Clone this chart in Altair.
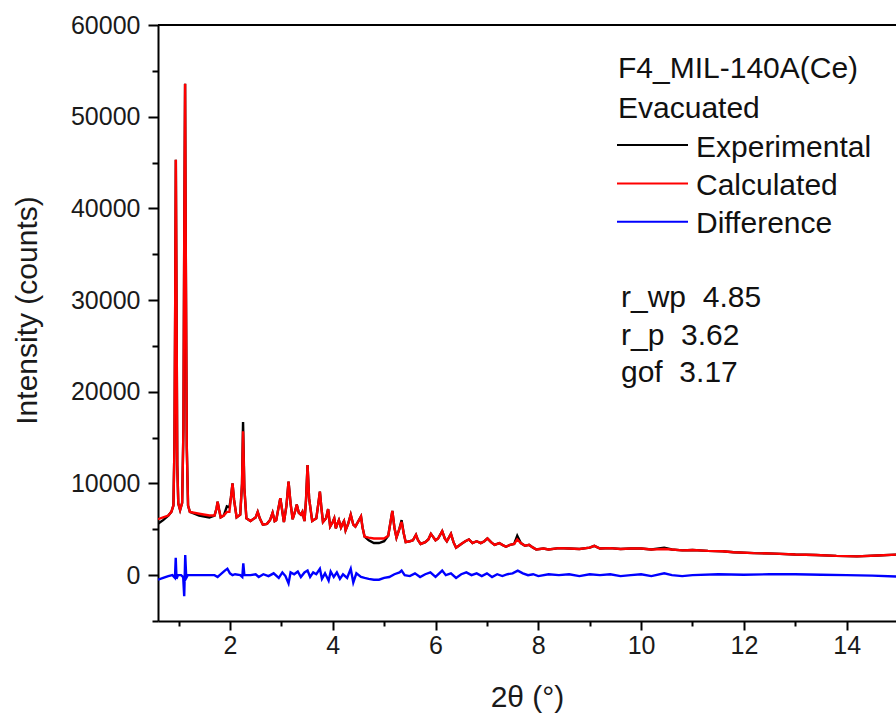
import altair as alt
import pandas as pd

# ---- data ----
calc_points = [
    (0.60, 6100), (0.70, 6300), (0.80, 6500), (0.86, 6900), (0.90, 7600),
    (0.92, 14000), (0.935, 30000), (0.947, 45300), (0.96, 30000), (0.975, 12000),
    (0.995, 7800), (1.03, 7100), (1.07, 7900), (1.095, 16000), (1.11, 36000),
    (1.127, 53600), (1.14, 36000), (1.16, 14000), (1.185, 7600),
    (1.22, 6900), (1.40, 6700), (1.60, 6500), (1.70, 6500), (1.74, 7300),
    (1.76, 8000), (1.79, 7100), (1.82, 6300), (1.88, 6500), (1.94, 6900),
    (1.99, 6900), (2.02, 8500), (2.05, 10000), (2.08, 8200), (2.13, 6300),
    (2.20, 6600), (2.235, 10000), (2.255, 15700), (2.28, 9500), (2.32, 6200),
    (2.40, 5900), (2.50, 6300), (2.54, 6900), (2.58, 6200), (2.64, 5500),
    (2.72, 5600), (2.78, 6000), (2.83, 6800), (2.87, 5900), (2.90, 6000),
    (2.95, 7500), (2.98, 8400), (3.01, 7300), (3.05, 5800), (3.10, 7600),
    (3.14, 10200), (3.18, 7800), (3.22, 6100), (3.27, 7000), (3.30, 7700),
    (3.34, 6800), (3.38, 6600), (3.41, 6900), (3.45, 5900), (3.48, 8200),
    (3.51, 12000), (3.54, 8400), (3.60, 5900), (3.68, 6200), (3.72, 7800),
    (3.75, 9100), (3.78, 7300), (3.81, 5800), (3.87, 6200), (3.91, 7200),
    (3.95, 5300), (4.00, 5800), (4.03, 6200), (4.06, 5100), (4.09, 5600),
    (4.12, 6000), (4.16, 5200), (4.20, 5700), (4.22, 5900), (4.25, 4900),
    (4.30, 5600), (4.35, 6600), (4.40, 5500), (4.44, 5300), (4.50, 5900),
    (4.55, 6400), (4.58, 5200), (4.62, 4200), (4.70, 4100), (4.80, 4000),
    (4.90, 4000), (5.00, 4000), (5.08, 4300), (5.13, 6000), (5.16, 7000),
    (5.20, 5200), (5.24, 4100), (5.30, 5100), (5.34, 5800), (5.38, 4600),
    (5.42, 3600), (5.50, 3700), (5.56, 3800), (5.62, 4400), (5.66, 3800),
    (5.71, 3400), (5.80, 3600), (5.86, 3900), (5.91, 4500), (5.95, 4200),
    (6.00, 3800), (6.05, 4000), (6.13, 4800), (6.18, 4000), (6.22, 3700),
    (6.30, 4500), (6.35, 3600), (6.40, 3000), (6.50, 3400), (6.58, 3700),
    (6.65, 3900), (6.72, 3500), (6.80, 3700), (6.88, 3500), (6.95, 3700),
    (7.01, 4000), (7.08, 3600), (7.15, 3300), (7.24, 3500), (7.30, 3300),
    (7.37, 3100), (7.45, 3300), (7.53, 3400), (7.59, 3900), (7.66, 3500),
    (7.74, 3200), (7.82, 3300), (7.90, 3000), (7.96, 2800), (8.10, 2900),
    (8.20, 2800), (8.40, 2950), (8.60, 2900), (8.80, 2850), (9.00, 3000),
    (9.09, 3200), (9.20, 2900), (9.40, 2950), (9.60, 2850), (9.80, 2900),
    (10.00, 2900), (10.20, 2800), (10.45, 2850), (10.60, 2800), (10.80, 2700),
    (11.00, 2750), (11.30, 2650), (11.58, 2600), (11.80, 2500), (12.20, 2400),
    (12.60, 2350), (13.00, 2250), (13.40, 2200), (13.80, 2100), (14.20, 2050),
    (14.60, 2150), (15.00, 2250),
]

# experimental values where they differ visibly from the calculated curve
exp_readings = {
    0.60: 5600, 0.70: 6000, 1.40: 6500, 1.60: 6300, 1.94: 7500, 1.99: 7400,
    2.255: 16700, 4.70: 3800, 4.80: 3500, 4.90: 3500, 5.00: 3700,
    5.34: 6000, 7.59: 4300, 10.45: 3000,
}

diff_points = [
    (0.60, -500), (0.70, -300), (0.80, -100), (0.88, 0), (0.93, -300),
    (0.945, 1900), (0.96, -400), (0.99, 0), (1.05, 0), (1.09, -200),
    (1.11, -2300), (1.13, 2200), (1.15, -300), (1.18, 0), (1.40, 0),
    (1.70, 0), (1.76, -200), (1.80, 0), (1.90, 500), (1.95, 700),
    (2.00, 200), (2.05, 0), (2.10, 100), (2.20, 0), (2.24, -200),
    (2.26, 1300), (2.28, 0), (2.40, 0), (2.50, 100), (2.56, -200),
    (2.65, 100), (2.75, -100), (2.85, 200), (2.95, -300), (3.02, 300),
    (3.08, -100), (3.14, -900), (3.18, 300), (3.25, 100), (3.32, 400),
    (3.38, -200), (3.45, 300), (3.51, 500), (3.56, -200), (3.62, 300),
    (3.68, 100), (3.75, 700), (3.79, -400), (3.85, 200), (3.92, -600),
    (3.96, 400), (4.02, -200), (4.08, 300), (4.14, -400), (4.20, 100),
    (4.28, -300), (4.35, 700), (4.40, -800), (4.46, 200), (4.55, -200),
    (4.62, -300), (4.70, -400), (4.80, -500), (4.90, -500), (5.00, -300),
    (5.10, -200), (5.20, 100), (5.30, 300), (5.34, 500), (5.40, 0),
    (5.50, -100), (5.60, 200), (5.70, -200), (5.80, 100), (5.90, 300),
    (6.00, -200), (6.13, 500), (6.20, 0), (6.30, 200), (6.40, -300),
    (6.50, 100), (6.60, 300), (6.70, 0), (6.80, 200), (6.90, -100),
    (7.00, 200), (7.10, -200), (7.20, 100), (7.30, -100), (7.40, 100),
    (7.50, 200), (7.60, 500), (7.70, 200), (7.80, 0), (7.90, 100),
    (8.00, -100), (8.20, 100), (8.40, 0), (8.60, 100), (8.80, -100),
    (9.00, 100), (9.20, 0), (9.40, 100), (9.60, -100), (9.80, 0),
    (10.00, 100), (10.20, -100), (10.45, 200), (10.60, 0), (10.80, -100),
    (11.00, 0), (11.50, 100), (12.00, 50), (12.50, 100), (13.00, 100),
    (13.50, 50), (14.00, 0), (14.50, -50), (15.00, -150),
]

y_major = [0, 10000, 20000, 30000, 40000, 50000, 60000]
y_minor = [-5000, 5000, 15000, 25000, 35000, 45000, 55000]
x_major = [2, 4, 6, 8, 10, 12, 14]
x_minor = [1, 3, 5, 7, 9, 11, 13]

header_lines = ["F4_MIL-140A(Ce)", "Evacuated"]
series_names = ["Experimental", "Calculated", "Difference"]
series_colors = ["#000000", "#ff0000", "#0000ff"]
stats_lines = ["r_wp \u00a04.85", "r_p \u00a03.62", "gof \u00a03.17"]

# ---- tables ----
calc_df = pd.DataFrame(calc_points, columns=["x", "y"])
exp_df = pd.DataFrame({"x": calc_df["x"],
                       "y": [exp_readings.get(x, y) for x, y in calc_points]})
diff_df = pd.DataFrame(diff_points, columns=["x", "y"])
one = pd.DataFrame({"k": [0]})

FONT = "Liberation Sans"
W, H = 738, 596
LW = 2.4
xscale = alt.Scale(domain=[0.6, 14.96], nice=False, zero=False)
yscale = alt.Scale(domain=[-5000, 60000], nice=False, zero=False)

major_x_axis = alt.Axis(values=x_major, tickSize=9, tickWidth=2, domainWidth=2,
                        domainColor="black", tickColor="black", labelFontSize=25,
                        labelFont=FONT, labelColor="#1a1a1a", labelPadding=3,
                        labelFlush=False, grid=False, title="2θ (°)",
                        titleFont=FONT, titleFontSize=30, titleFontWeight="normal",
                        titleColor="#1a1a1a", titleBaseline="middle", titleY=76,
                        orient="bottom")
minor_x_axis = alt.Axis(values=x_minor, tickSize=5, tickWidth=2, tickColor="black",
                        labels=False, domain=False, grid=False, title=None,
                        orient="bottom")
major_y_axis = alt.Axis(values=y_major, format="d", tickSize=10, tickWidth=2,
                        domainWidth=2, domainColor="black", tickColor="black",
                        labelFontSize=25, labelFont=FONT, labelColor="#1a1a1a",
                        labelPadding=8, grid=False, title="Intensity (counts)",
                        titleFont=FONT, titleFontSize=30, titleFontWeight="normal",
                        titleColor="#1a1a1a", titleAngle=270, titleAlign="center",
                        titleBaseline="middle", titleX=-131, titleY=285,
                        orient="left")
minor_y_axis = alt.Axis(values=y_minor, tickSize=6, tickWidth=2, tickColor="black",
                        labels=False, domain=False, grid=False, title=None,
                        orient="left")

exp_line = alt.Chart(exp_df).mark_line(color=series_colors[0], strokeWidth=LW,
                                       clip=True).encode(
    x=alt.X("x:Q", scale=xscale, axis=major_x_axis),
    y=alt.Y("y:Q", scale=yscale, axis=major_y_axis),
)
calc_line = alt.Chart(calc_df).mark_line(color=series_colors[1], strokeWidth=LW,
                                         clip=True).encode(
    x=alt.X("x:Q", scale=xscale, axis=minor_x_axis),
    y=alt.Y("y:Q", scale=yscale, axis=minor_y_axis),
)
diff_line = alt.Chart(diff_df).mark_line(color=series_colors[2], strokeWidth=LW,
                                         clip=True).encode(
    x=alt.X("x:Q", scale=xscale, axis=None),
    y=alt.Y("y:Q", scale=yscale, axis=None),
)
top_border = alt.Chart(one).mark_rule(color="black", strokeWidth=2).encode(
    x=alt.value(0), x2=alt.value(W + 5),
    y=alt.YDatum(60000, scale=yscale, axis=None),
)

layers = [exp_line, calc_line, diff_line, top_border]

def text_layer(s, px, py):
    return alt.Chart(one).mark_text(align="left", baseline="alphabetic",
                                    font=FONT, fontSize=30, color="#111").encode(
        x=alt.value(px), y=alt.value(py), text=alt.value(s))

# header lines
for s, py in zip(header_lines, [53, 92.5]):
    layers.append(text_layer(s, 460, py))
# legend entries
for s, c, py in zip(series_names, series_colors, [120, 158.5, 196.7]):
    layers.append(alt.Chart(one).mark_rule(color=c, strokeWidth=2).encode(
        x=alt.value(459), x2=alt.value(530), y=alt.value(py)))
    layers.append(text_layer(s, 538, py + 11.5))
# stats
for s, py in zip(stats_lines, [282, 320, 357]):
    layers.append(text_layer(s, 463, py))

chart = alt.layer(*layers).resolve_axis(
    x="independent", y="independent"
).properties(
    width=W, height=H,
    padding={"left": 158, "top": 25, "right": 0, "bottom": 99},
    autosize=alt.AutoSizeParams(type="none"),
).configure_view(stroke=None)

chart.save("out.html", embed_options={"renderer": "svg", "actions": False})
